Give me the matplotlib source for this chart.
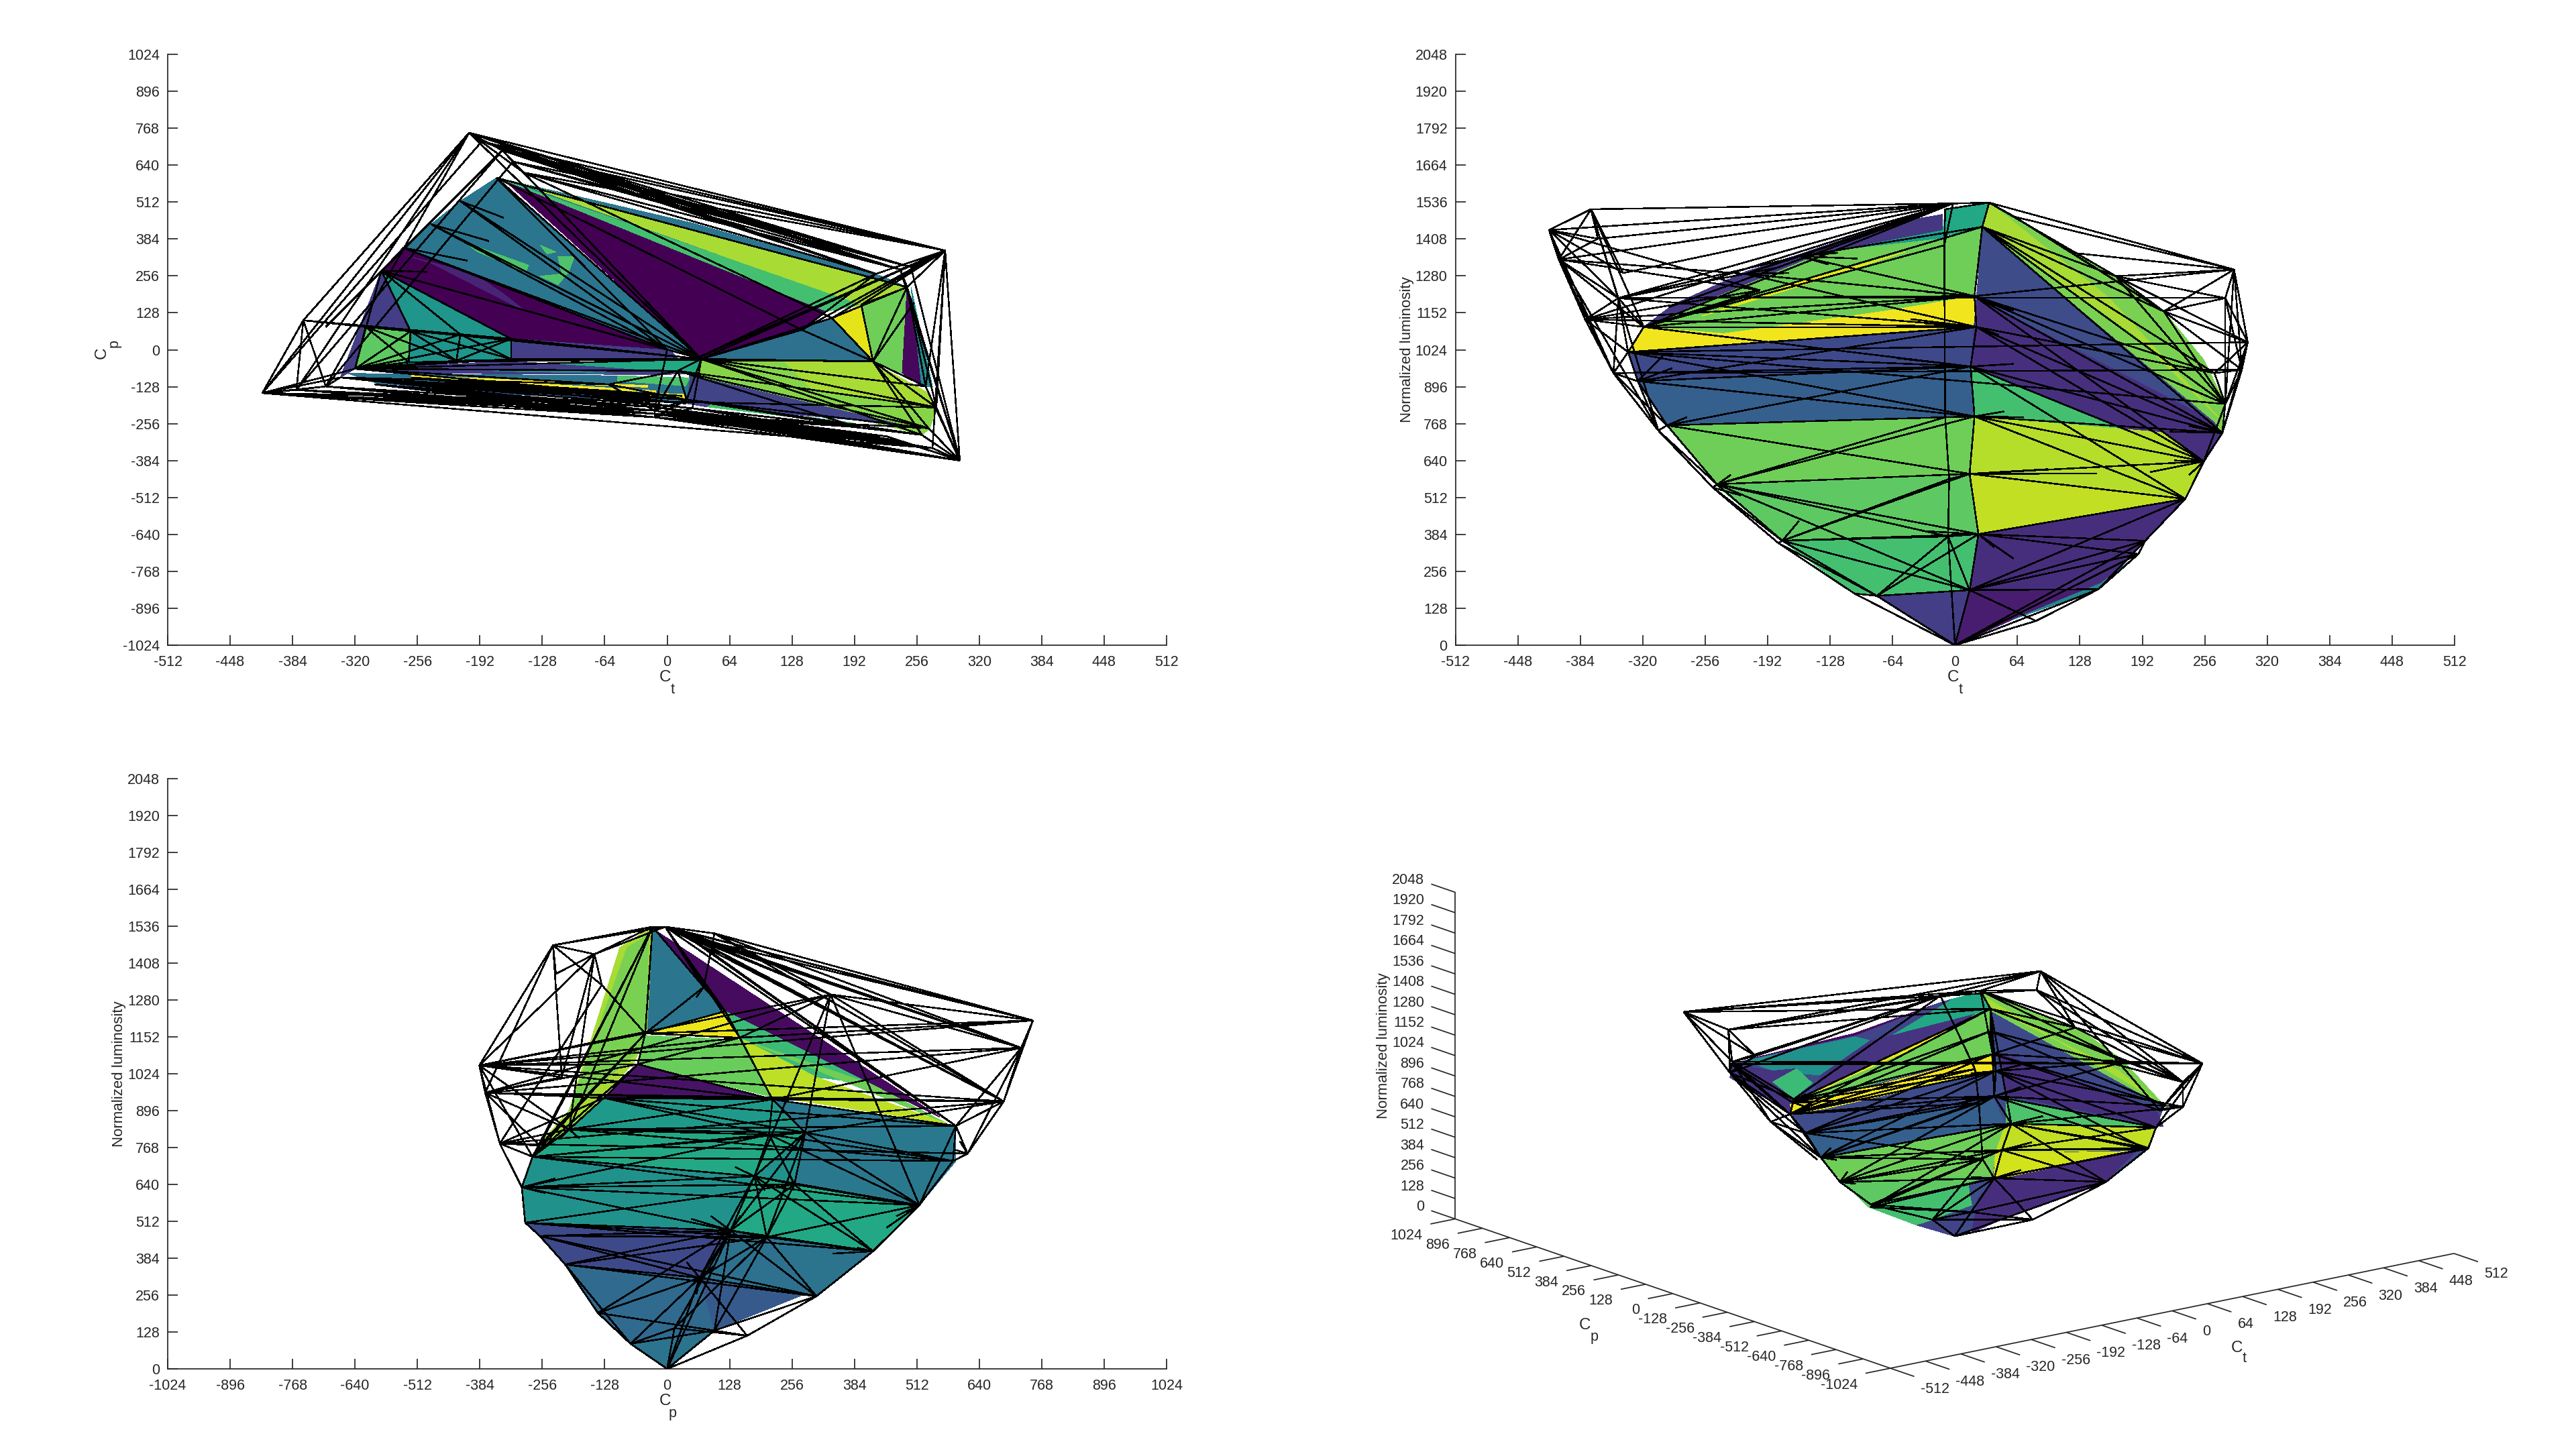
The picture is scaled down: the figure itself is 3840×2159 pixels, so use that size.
import numpy as np
import matplotlib
matplotlib.use("Agg")
import matplotlib.pyplot as plt
from matplotlib.collections import LineCollection, PolyCollection

plt.rcParams["font.family"] = ["Liberation Sans", "DejaVu Sans"]
plt.rcParams["axes.unicode_minus"] = False

W, H = 3840, 2159
INK = "#262626"
FS = 15.5

CT_TICKS = list(range(-512, 513, 64))
CP_TICKS = list(range(-1024, 1025, 128))
LUM_TICKS = list(range(0, 2049, 128))

# ---- panel 1: Ct / Cp
P1_FACES = [
    [(-175, 596), (-212, 515), (-242, 435), (-271, 354), (11, -12), (26, -5)],
    [(-168, 591), (164, 133), (138, 69), (35, -32)],
    [(-271, 354), (-293, 274), (-160, 38), (4, -2)],
    [(-160, 38), (-160, -32), (11, -32), (4, -2)],
    [(-293, 274), (-160, 38), (-160, -32), (-216, -38), (-320, -66), (-309, 79)],
    [(-309, 79), (-263, 64), (-265, -43), (-320, -66)],
    [(-293, 274), (-263, 64), (-309, 79), (-320, -66), (-335, -96), (-309, 133)],
    [(-168, 591), (26, 439), (220, 255), (246, 217), (198, 156)],
    [(-153, 579), (246, 217), (198, 156)],
    [(-165, 585), (198, 156), (164, 133)],
    [(169, 110), (198, 156), (211, -40)],
    [(198, 156), (246, 217), (241, -81), (211, -40)],
    [(246, 217), (241, -81), (261, -127), (253, 118)],
    [(250, 217), (272, -127), (261, -127), (253, 118)],
    [(138, 69), (169, 110), (211, -40), (35, -32)],
    [(35, -32), (211, -40), (276, -203), (269, -275), (261, -295), (23, -89)],
    [(120, -40), (211, -45), (268, -150), (276, -203), (150, -140)],
    [(23, -89), (85, -136), (260, -275), (194, -244), (41, -198), (19, -186)],
    [(41, -198), (194, -260), (190, -253), (45, -190)],
    [(-117, -47), (34, -31), (28, -86), (-47, -70)],
    [(-314, -66), (-161, -39), (23, -82), (-3, -86), (-272, -81)],
    [(-178, -74), (-134, -66), (-56, -82)],
    [(-327, -82), (-51, -90), (23, -97), (19, -186), (-297, -117)],
    [(-51, -90), (23, -97), (19, -125), (-51, -108)],
    [(-297, -113), (-12, -171), (-16, -179), (-222, -144)],
    [(-240, -108), (10, -150), (10, -166)],
    [(-262, -89), (-20, -124), (-20, -130), (-262, -94)],
    [(-231, -97), (-12, -142), (-12, -148), (-231, -102)],
    [(-178, -117), (-16, -158), (-16, -164), (-178, -122)],
    [(-126, -136), (-16, -160), (-16, -168), (-126, -142)],
    [(-7, -151), (19, -155), (19, -175)],
    [(-206, 370), (-142, 293), (-145, 270), (-194, 339)],
    [(-130, 362), (-114, 339), (-123, 332)],
    [(-112, 324), (-95, 324), (-101, 270), (-112, 225), (-130, 255), (-108, 263)],
    [(-265, 324), (-198, 263), (-168, 194), (-145, 133), (-242, 301)],
]
P1_FACE_C = [0.39, 0.0, 0.0, 0.18, 0.52, 0.75, 0.18, 0.39, 0.87, 0.7, 0.96, 0.78, 0.02,
             0.48, 0.37, 0.82, 0.87, 0.2, 0.7, 0.6, 0.18, 0.45, 0.38, 0.72, 0.28, 0.35,
             1.0, 1.0, 1.0, 1.0, 0.97, 0.72, 0.72, 0.72, 0.1]
P1_V = [(-203, 752), (285, 344), (300, -384), (-415, -150), (-373, 102), (-13, -234), (-169, 691),
        (-147, 614), (-175, 596), (-212, 515), (-242, 435), (-271, 354), (-293, 274), (35, -32),
        (-160, 38), (-309, 79), (-320, -66), (-335, -96), (-263, 64), (-212, 53), (-265, -43),
        (-216, -38), (-160, -32), (246, 217), (211, -40), (169, 110), (199, 156), (138, 69),
        (265, -127), (276, -200), (268, -272), (261, -295), (239, 278), (214, 263), (250, 286),
        (-350, 79), (-380, -139), (-350, -127), (11, -73), (20, -173), (-13, -211), (0, 0),
        (272, -341), (242, -318), (-287, -112), (-246, 270), (-60, -120), (26, -203), (253, 163),
        (-168, 458), (-183, 377), (-205, 309),
        (-13, -222), (-13, -198), (-190, 722), (-158, 652), (-300, -120), (225, -300), (-230, -105),
        (-178, -118), (-120, -135), (15, -160), (19, -186), (-262, -96), (30, -30), (195, -268)]
P1_FANS = {
    0: [1, 32, 34, 33, 3, 4, 13, 36, 7, 6, 54, 37],
    54: [1, 34, 32, 33, 3],
    6: [1, 32, 34, 33, 36, 35, 13, 7],
    55: [1, 32, 34, 37, 13],
    7: [1, 32, 33, 13, 25],
    8: [13, 41, 23, 27],
    9: [13, 41, 49],
    10: [13, 41, 50],
    11: [13, 41, 51],
    12: [13, 14, 16, 18, 19, 45, 41],
    4: [3, 36, 37, 14, 19, 13, 15],
    3: [5, 40, 52, 36, 37, 17, 16, 29, 30, 42],
    36: [5, 37, 40, 52, 53],
    37: [5, 17, 52, 53],
    56: [5, 52, 53, 40],
    5: [2, 42, 43, 40, 47, 39, 57],
    52: [2, 42, 43, 57, 65],
    40: [2, 43, 39, 38, 41, 42, 57, 65],
    53: [2, 43, 42, 57],
    2: [1, 34, 32, 23, 42, 43, 30, 31, 28, 29, 57],
    1: [13, 27, 25, 34, 32, 33, 42, 23, 28, 29, 64, 26],
    33: [64, 27],
    13: [24, 27, 25, 28, 29, 30, 31, 14, 22, 39, 38, 47, 16, 21, 20],
    24: [23, 25, 26, 28, 29, 30, 31, 48, 27, 22],
    23: [25, 26, 28, 29, 32],
    16: [18, 19, 14, 15, 20, 21, 22, 38, 39, 46],
    15: [18, 20, 21, 19],
    18: [20, 21, 19, 22],
    19: [21, 22],
    14: [21, 22],
    17: [39, 47, 46, 40, 61, 62],
    44: [39, 47, 40, 61, 62],
    46: [39, 40, 38],
    38: [29, 30, 39, 65],
    39: [30, 31, 65],
    47: [31, 42, 43, 65],
    58: [61, 62, 39],
    59: [61, 62, 39],
    60: [61, 62],
    63: [61, 62, 47],
}

# ---- panel 2: Ct / luminosity
P2_FACES = [
    [(-10, 1511), (35, 1534), (28, 1450), (-13, 1416)],
    [(-133, 1363), (-13, 1493), (-13, 1409)],
    [(-319, 1103), (-289, 1180), (-215, 1294), (-159, 1355), (-66, 1462), (-13, 1493), (-13, 1440),
     (-133, 1363), (-215, 1248)],
    [(-319, 1103), (-215, 1248), (-133, 1363), (-13, 1409), (28, 1450), (20, 1210), (22, 1103), (-237, 1080)],
    [(-335, 1016), (-319, 1103), (-237, 1080), (-73, 1157), (20, 1210), (22, 1103)],
    [(-259, 1141), (-162, 1256), (-51, 1363), (-170, 1233)],
    [(-335, 1016), (22, 1103), (16, 966), (-325, 915)],
    [(-325, 915), (16, 966), (20, 793), (-295, 762)],
    [(-295, 762), (20, 793), (15, 594), (-244, 553)],
    [(-244, 553), (15, 594), (24, 385), (-177, 362)],
    [(-177, 362), (24, 385), (15, 191), (-80, 171), (-103, 179)],
    [(28, 1450), (22, 1203), (266, 775), (233, 912)],
    [(22, 1203), (16, 966), (255, 637), (274, 736), (266, 775)],
    [(16, 966), (102, 843), (247, 652), (214, 737), (20, 793)],
    [(20, 793), (214, 737), (255, 637), (236, 507), (15, 594)],
    [(15, 594), (236, 507), (24, 385)],
    [(24, 385), (236, 507), (195, 362), (147, 194), (15, 191)],
    [(15, 191), (147, 194), (60, 90), (0, 0)],
    [(-80, 171), (15, 191), (0, 0)],
    [(35, 1534), (98, 1409), (162, 1279), (214, 1157), (255, 989), (277, 836), (274, 736), (266, 775),
     (28, 1450)],
    [(35, 1534), (158, 1203), (270, 790), (188, 1065), (28, 1450)],
    [(188, 316), (147, 194), (60, 90), (150, 215)],
]
P2_FACE_C = [0.6, 0.55, 0.16, 0.78, 0.98, 0.96, 0.22, 0.3, 0.78, 0.75, 0.7, 0.23, 0.14, 0.7, 0.89,
             0.91, 0.13, 0.08, 0.18, 0.8, 0.87, 0.45]
P2_V = [(0, 0), (-2, 1531), (35, 1534), (28, 1450), (-416, 1439), (-373, 1511), (-366, 1409),
        (-406, 1337), (-345, 1203), (-379, 1129), (-350, 943), (-304, 744), (-248, 546), (-181, 354),
        (-103, 179), (-319, 1103), (-335, 1016), (-325, 915), (-295, 762), (-244, 558), (-177, 362),
        (-80, 171), (-215, 1287), (-159, 1348), (-66, 1462), (-10, 1511), (20, 1210), (22, 1103),
        (16, 966), (20, 793), (15, 594), (24, 385), (15, 191), (-11, 1386), (-10, 790), (-6, 576),
        (-7, 377), (286, 1302), (277, 1203), (300, 1050), (294, 955), (277, 836), (274, 736),
        (255, 637), (236, 507), (195, 362), (147, 194), (83, 84), (214, 1157), (61, 1485),
        (165, 1279), (266, 943), (188, 316), (-293, 1172), (-340, 1290), (-200, 1230), (120, 1360)]
P2_FANS = {
    1: [5, 4, 6, 8, 53, 7, 15, 22, 23, 24, 2, 33, 9, 54],
    2: [3, 49, 37, 50, 25],
    4: [5, 6, 7, 9, 10, 8, 54, 55],
    5: [6, 7, 8, 11, 15, 54],
    7: [8, 9, 10, 11, 15, 6, 22, 55],
    8: [9, 15, 16, 22, 23, 26, 27, 10],
    9: [10, 16, 15, 27, 26, 55],
    10: [11, 16, 17, 18, 28, 40],
    11: [12, 17, 18, 19],
    12: [13, 19, 20],
    13: [14, 20, 21],
    14: [0, 21],
    15: [16, 26, 27, 28, 33, 3, 55],
    16: [17, 27, 28, 29, 41, 39],
    17: [18, 28, 29, 27],
    18: [19, 29, 28, 30, 34],
    19: [20, 29, 30, 31, 34, 36, 32],
    20: [21, 30, 31, 32, 36, 35],
    21: [0, 31, 32, 36],
    22: [26, 27, 23],
    23: [26, 3],
    37: [38, 39, 40, 41, 49, 50, 48, 26, 56],
    38: [39, 40, 41, 48, 50, 8],
    39: [40, 41, 42, 48, 50, 51],
    40: [41, 42, 48, 51],
    41: [42, 43, 48, 50, 51],
    3: [26, 42, 41, 51, 48, 50],
    26: [27, 42, 41, 43, 51],
    27: [28, 42, 43, 51],
    28: [29, 42, 43, 44],
    29: [30, 42, 43, 44, 34],
    30: [31, 43, 44, 35],
    31: [32, 44, 45, 52, 36],
    32: [0, 44, 45, 46, 52, 36, 47],
    0: [47, 45, 46, 52, 36],
    43: [42, 44],
    44: [45],
    45: [52, 46],
    46: [47, 52],
    48: [50, 49, 56],
    33: [34, 25],
    34: [35],
    35: [36],
    49: [56],
}
P2_SPIKES = [
    ((20, 1210), (-30, 1225)), ((20, 1210), (-40, 1195)), ((20, 1210), (60, 1160)),
    ((22, 1103), (-30, 1115)), ((22, 1103), (-45, 1130)), ((22, 1103), (45, 1075)), ((22, 1103), (55, 1055)),
    ((16, 966), (-30, 985)), ((16, 966), (-60, 995)), ((16, 966), (60, 975)),
    ((20, 793), (-15, 805)), ((20, 793), (70, 790)), ((20, 793), (50, 810)),
    ((15, 594), (95, 610)), ((15, 594), (145, 595)), ((15, 594), (-5, 570)),
    ((24, 385), (-30, 395)), ((24, 385), (40, 340)), ((24, 385), (60, 300)),
    ((255, 637), (200, 600)), ((255, 637), (225, 640)), ((255, 637), (240, 590)),
    ((274, 736), (240, 760)), ((274, 736), (220, 740)),
    ((-248, 546), (-230, 590)), ((-248, 546), (-220, 520)),
    ((-177, 362), (-160, 430)), ((-177, 362), (-190, 400)),
    ((-325, 915), (-300, 1000)), ((-325, 915), (-290, 960)), ((-295, 762), (-275, 790)),
    ((-159, 1348), (-100, 1340)), ((-159, 1348), (-120, 1360)), ((-159, 1348), (-130, 1320)),
    ((-215, 1287), (-170, 1290)), ((-215, 1287), (-180, 1310)),
]

# ---- panel 3: Cp / luminosity
P3_FACES = [
    [(-30, 1534), (-42, 1169), (119, 1241)],
    [(-19, 1516), (559, 874), (417, 989), (119, 1241), (75, 1325)],
    [(-45, 1157), (157, 1141), (216, 943), (-60, 1057)],
    [(-37, 1164), (119, 1241), (149, 1149)],
    [(119, 1241), (417, 989), (306, 1012), (149, 1149)],
    [(157, 1141), (417, 989), (574, 851)],
    [(157, 1141), (306, 1012), (574, 851), (253, 935), (216, 943)],
    [(-30, 1534), (-42, 1169), (-67, 1065), (-134, 943), (-268, 767), (-201, 897), (-97, 1462)],
    [(-82, 1462), (-37, 1508), (-45, 1157), (-52, 1111), (-201, 897)],
    [(-134, 943), (-201, 831), (-276, 736), (-268, 767)],
    [(-60, 1057), (216, 935), (-130, 940)],
    [(-130, 940), (216, 935), (283, 820), (-276, 736), (-201, 831)],
    [(216, 935), (592, 843), (592, 721), (283, 820)],
    [(-201, 831), (283, 820), (179, 668), (-276, 736)],
    [(283, 820), (261, 640), (179, 668)],
    [(-276, 736), (179, 668), (-298, 630)],
    [(-298, 630), (179, 668), (130, 480), (-288, 507)],
    [(283, 820), (592, 721), (517, 568), (261, 640)],
    [(179, 668), (261, 640), (517, 568), (422, 408), (130, 480)],
    [(130, 480), (422, 408), (306, 252), (204, 454)],
    [(-288, 507), (130, 480), (67, 316), (-209, 362)],
    [(-209, 362), (67, 316), (97, 133), (-75, 87), (-142, 194)],
    [(67, 316), (276, 255), (97, 133)],
    [(130, 480), (204, 454), (306, 252), (67, 316)],
    [(-75, 87), (97, 133), (0, 0)],
]
P3_FACE_C = [0.39, 0.03, 0.77, 0.97, 0.68, 0.78, 0.9, 0.87, 0.8, 0.85, 0.05, 0.54, 0.4, 0.6, 0.5,
             0.5, 0.5, 0.4, 0.6, 0.38, 0.22, 0.34, 0.28, 0.37, 0.38]
P3_V = [(0, 0), (-30, 1534), (-4, 1534), (-234, 1470), (97, 1511), (750, 1209), (726, 1114),
        (690, 928), (335, 1299), (-385, 1053), (-373, 958), (-343, 782), (-149, 1439), (-134, 1332),
        (-216, 1012), (-228, 1371), (616, 747), (592, 843), (586, 721), (517, 568), (422, 408),
        (306, 252), (164, 115), (-75, 87), (-142, 194), (-209, 362), (-261, 461), (-291, 507),
        (-298, 630), (-276, 736), (-201, 831), (-130, 940), (-60, 1057), (-45, 1164), (75, 1325),
        (119, 1241), (149, 1149), (216, 935), (283, 820), (209, 813), (179, 668), (261, 640),
        (130, 480), (204, 457), (67, 316), (276, 258), (15, 141), (97, 133), (-261, 775),
        (20, 1525), (45, 1500)]
P3_FANS = {
    1: [29, 48, 30],
    3: [1, 12, 13, 9, 10, 14, 15, 2],
    12: [13, 14, 15, 1, 2, 9, 30],
    2: [4, 5, 6, 8, 7, 34, 35, 36, 1, 17, 49],
    49: [5, 6, 8, 7, 17],
    50: [5, 6, 7, 17],
    4: [5, 6, 8, 7, 34],
    8: [5, 6, 7, 38, 40, 19, 9, 10, 36],
    5: [6, 7, 9, 33, 36],
    6: [7, 9, 10, 37, 17, 16],
    7: [16, 17, 9, 10, 11, 37, 38],
    9: [10, 11, 14, 32, 30, 33, 36, 37, 29],
    10: [11, 14, 37, 31, 30, 32, 48],
    11: [48, 30, 28, 29, 31, 13, 16],
    17: [16, 18, 37, 30, 31, 19],
    18: [16, 19, 38, 39, 29, 30],
    19: [20, 41, 38, 39, 40, 43, 28, 29],
    20: [21, 41, 40, 43, 42, 27],
    21: [22, 43, 42, 44, 47, 45, 25, 26],
    22: [0, 47, 44, 46],
    0: [23, 46, 47, 44, 42],
    23: [24, 46, 47, 44, 25],
    24: [25, 44, 47, 42],
    25: [26, 44, 42, 43],
    26: [27, 42, 44, 43],
    27: [28, 42, 43, 41],
    28: [29, 40, 41, 42, 39],
    29: [30, 39, 38, 40, 48],
    30: [31, 38, 39, 37],
    31: [32, 37, 39, 38],
    32: [33, 36, 37, 29],
    33: [1, 34, 35, 36, 13, 29, 48],
    34: [35, 1],
    35: [36],
    36: [37],
    37: [38, 39],
    38: [41, 40, 39, 42, 43],
    39: [40, 41],
    40: [41, 42, 43, 44],
    41: [43, 42],
    42: [43, 44, 46, 47],
    43: [44, 47, 46],
}
P3_SPIKES = [
    ((67, 316), (60, 260)), ((67, 316), (40, 370)), ((67, 316), (95, 355)),
    ((130, 480), (90, 530)), ((130, 480), (100, 400)), ((130, 480), (50, 520)), ((130, 480), (150, 530)),
    ((179, 668), (140, 700)), ((179, 668), (200, 620)),
    ((75, 1325), (60, 1290)), ((75, 1325), (95, 1290)),
    ((-298, 630), (-250, 610)), ((-298, 630), (-230, 660)),
    ((-201, 831), (-180, 800)), ((-201, 831), (-220, 800)),
    ((517, 568), (470, 530)), ((517, 568), (450, 490)),
    ((616, 747), (590, 760)), ((616, 747), (600, 790)),
    ((422, 408), (390, 420)), ((422, 408), (340, 400)),
]

# ---- panel 4: oblique view, mesh read as (Ct, luminosity) on the Cp = 0 plane
P4_FACES = [
    [(0, 0), (100, 57), (275, 147), (352, 305), (380, 545), (379, 560), (304, 893), (236, 1109),
     (47, 1497), (-7, 1490), (-44, 1474), (-181, 1388), (-361, 1375), (-405, 1363), (-408, 1281),
     (-296, 978), (-274, 837), (-243, 661), (-206, 495), (-156, 292), (-69, 118)],
    [(47, 1497), (65, 1370), (-119, 1337), (-7, 1490)],
    [(-7, 1490), (-119, 1337), (-153, 1333), (-181, 1388), (-44, 1474)],
    [(-44, 1474), (-181, 1388), (-361, 1375), (-181, 1400)],
    [(-377, 1365), (-181, 1377), (-153, 1333), (-243, 1180), (-330, 1269)],
    [(-405, 1363), (-330, 1269), (-287, 1252), (-330, 1199), (-293, 1074), (-296, 978), (-408, 1281)],
    [(-287, 1252), (-259, 1142), (-293, 1074), (-330, 1199)],
    [(-243, 1180), (-153, 1333), (-119, 1337), (40, 1366), (-13, 1298), (-255, 1090)],
    [(65, 1370), (71, 1099), (-293, 1033), (-255, 1090), (-13, 1298), (40, 1366)],
    [(-16, 1297), (-94, 1236), (-212, 1126), (-268, 1057), (-212, 1116), (-75, 1230)],
    [(65, 1089), (71, 987), (-237, 965), (-293, 977), (-299, 1037), (-181, 1038)],
    [(-293, 934), (71, 959), (71, 805), (-274, 837)],
    [(-274, 837), (71, 805), (90, 651), (-181, 659), (-243, 661)],
    [(-243, 661), (90, 637), (74, 438), (68, 330), (-156, 292), (-206, 495)],
    [(-206, 495), (68, 330), (24, 319), (-156, 292)],
    [(-156, 292), (24, 319), (31, 174), (-69, 118)],
    [(-69, 118), (31, 125), (0, 0)],
    [(65, 1370), (366, 583), (366, 541), (80, 1093)],
    [(80, 1093), (366, 541), (379, 420), (93, 817)],
    [(47, 1497), (236, 1109), (304, 893), (379, 560), (366, 583), (65, 1370)],
    [(55, 1460), (360, 615), (298, 828), (70, 1380)],
    [(93, 803), (198, 645), (366, 422), (93, 642)],
    [(93, 642), (366, 422), (347, 302), (74, 466)],
    [(74, 466), (329, 301), (71, 300)],
    [(71, 300), (329, 301), (273, 144), (117, 72), (31, 0), (43, 208)],
]
P4_FACE_C = [0.23, 0.6, 0.2, 0.03, 0.5, 0.15, 0.68, 0.15, 0.78, 0.97, 0.98, 0.23, 0.3, 0.78, 0.75,
             0.7, 0.2, 0.22, 0.14, 0.8, 0.87, 0.72, 0.91, 0.93, 0.13]
P4_V = [(0, 0), (-492, 1752), (156, 1552), (450, 767), (47, 1506), (415, 520), (366, 425), (352, 305),
        (275, 147), (142, 4), (-152, 305), (-250, 657), (-299, 975), (-404, 1378), (-411, 1584),
        (-26, 1526), (65, 1380), (149, 1439), (415, 674), (373, 526), (219, 1154), (69, 1094),
        (75, 983), (72, 827), (103, 633), (86, 480), (72, 313), (30, 130), (-271, 837), (-243, 664),
        (-208, 486), (-40, 132), (-362, 1385), (-292, 1064), (-408, 1311), (-334, 952), (37, 1022),
        (44, 805), (51, 446), (310, 877),
        (-296, 1050), (65, 1240), (379, 560), (347, 302), (-153, 289), (-405, 1363)]
P4_FANS = {
    1: [2, 14, 13, 4, 15, 32, 17, 34, 16],
    14: [2, 32, 34, 16, 4],
    2: [3, 17, 4, 15, 20, 18, 19],
    3: [4, 17, 18, 19, 5, 20, 39, 6],
    4: [16, 17, 20, 39, 15, 21],
    17: [20, 18],
    15: [14, 13, 32, 36, 33, 34],
    13: [14, 34, 32, 12, 33, 35, 3],
    45: [3, 40, 12],
    34: [35, 33, 32, 12, 28, 29],
    35: [28, 29, 12, 11],
    12: [21, 22, 16, 23, 29, 33, 28, 36, 37, 41],
    40: [16, 41, 21, 22, 23],
    28: [23, 22, 37, 29, 24, 38, 21],
    29: [30, 23, 24, 25, 38, 37, 22],
    30: [10, 24, 25, 26, 38, 23],
    44: [25, 26, 27, 24],
    10: [31, 25, 26, 27],
    31: [0, 26, 27, 9],
    16: [21, 22, 23, 24, 39, 20, 18, 41],
    41: [42, 18, 21],
    21: [22, 19, 20, 39, 42],
    22: [23, 5, 6, 39, 43],
    23: [24, 5, 6, 7, 39],
    24: [25, 5, 6, 7, 8, 43],
    25: [26, 6, 7, 8, 43],
    26: [27, 7, 8, 9, 43],
    27: [0, 8, 9],
    0: [9, 26, 8],
    9: [8],
    8: [7],
    7: [6],
    6: [5],
    5: [18, 19],
    18: [19, 39, 20],
    36: [37, 33],
    37: [38, 29],
    38: [26, 31],
}
P4_SPIKES = [
    ((72, 827), (20, 840)), ((72, 827), (120, 850)), ((72, 827), (45, 790)),
    ((103, 633), (50, 660)), ((103, 633), (160, 640)), ((103, 633), (125, 600)),
    ((86, 480), (35, 500)), ((86, 480), (140, 490)), ((86, 480), (40, 450)),
    ((72, 313), (30, 350)), ((72, 313), (120, 330)), ((72, 313), (105, 290)),
    ((75, 983), (30, 1000)), ((75, 983), (120, 990)),
    ((-208, 486), (-195, 540)), ((-208, 486), (-180, 455)),
    ((-243, 664), (-225, 710)), ((-243, 664), (-215, 630)),
    ((-296, 1050), (-270, 1000)), ((-296, 1050), (-260, 1020)), ((-296, 1050), (-270, 1080)),
]

LINE_W = 1.1


def edges_from(verts, fans, spikes=()):
    segs = []
    for hub, targets in fans.items():
        for t in targets:
            segs.append([verts[hub], verts[t]])
    segs.extend(spikes)
    return segs


def px_axes(left, right, top, bottom):
    return fig.add_axes([left / W, 1 - bottom / H, (right - left) / W, (bottom - top) / H])


def axis_text(ax, x, y, s, **kw):
    ax.annotate(s, xy=(0.5, 0), xycoords="axes fraction", xytext=(x, y), textcoords="offset pixels",
                color=INK, ha="center", va="center", **kw)


def plot_panel(ax, faces, colors, verts, fans, spikes, xticks, yticks, xsub, ylabel):
    ax.add_collection(PolyCollection(faces, array=np.array(colors), cmap="viridis", clim=(0, 1),
                                     edgecolors="none", antialiaseds=False, zorder=2))
    ax.add_collection(LineCollection(edges_from(verts, fans, spikes), colors="k", linewidths=LINE_W,
                                     antialiaseds=False, zorder=3))
    ax.set_xlim(xticks[0], xticks[-1])
    ax.set_ylim(yticks[0], yticks[-1])
    ax.set_xticks(xticks)
    ax.set_yticks(yticks)
    ax.spines["top"].set_visible(False)
    ax.spines["right"].set_visible(False)
    for s in ("left", "bottom"):
        ax.spines[s].set_linewidth(1.25)
        ax.spines[s].set_color(INK)
    ax.tick_params(axis="both", direction="in", length=10.8, width=1.25, color=INK,
                   labelcolor=INK, labelsize=FS)
    ax.tick_params(axis="x", pad=11)
    ax.tick_params(axis="y", pad=8.5)
    axis_text(ax, -3, -48, "C", fontsize=17.5)
    axis_text(ax, 8, -66, xsub, fontsize=FS)
    if ylabel:
        ax.text(-0.0485, 0.5, ylabel, transform=ax.transAxes, rotation=90, color=INK, ha="center",
                va="center", fontsize=FS + 0.5)
    else:
        ax.annotate("C", xy=(0, 0.5), xycoords="axes fraction", xytext=(-98, -5),
                    textcoords="offset pixels", color=INK, rotation=90, ha="center", va="center",
                    fontsize=17.5)
        ax.annotate("p", xy=(0, 0.5), xycoords="axes fraction", xytext=(-80, 9),
                    textcoords="offset pixels", color=INK, rotation=90, ha="center", va="center",
                    fontsize=FS)


# oblique view: screen pixels per unit of each data axis, origin at Ct = Cp = L = 0
E_CT = np.array([0.8206, 0.1671])
E_CP = np.array([-0.3167, 0.1087])
E_L = np.array([0.0, 0.2378])
ORIGIN_PX = (2913.7, 1843.2)


def view(ct, cp, lum):
    return ct * E_CT + cp * E_CP + lum * E_L


def plot_oblique(ax):
    faces = [[view(c, 0, l) for c, l in f] for f in P4_FACES]
    verts = [view(c, 0, l) for c, l in P4_V]
    spikes = [[view(a[0], 0, a[1]), view(b[0], 0, b[1])] for a, b in P4_SPIKES]
    ax.add_collection(PolyCollection(faces, array=np.array(P4_FACE_C), cmap="viridis", clim=(0, 1),
                                     edgecolors="none", antialiaseds=False, zorder=2))
    ax.add_collection(LineCollection(edges_from(verts, P4_FANS, spikes), colors="k", linewidths=LINE_W,
                                     antialiaseds=False, zorder=3))

    def frame(a, b):
        ax.plot([a[0], b[0]], [a[1], b[1]], color=INK, lw=1.25, zorder=1, solid_capstyle="butt")

    def label(p, s, dx, dy, ha="center", va="center", **kw):
        ax.annotate(s, xy=p, xytext=(dx, dy), textcoords="offset pixels", color=INK, ha=ha, va=va, **kw)

    frame(view(-512, 1024, 0), view(-512, 1024, 2048))
    frame(view(-512, 1024, 0), view(-512, -1024, 0))
    frame(view(-512, -1024, 0), view(512, -1024, 0))
    for v in LUM_TICKS:
        p = view(-512, 1024, v)
        frame(p, view(-512, 1024 + 113, v))
        label(p, str(v), -46, 18, ha="right", fontsize=FS)
    for v in CP_TICKS:
        p = view(-512, v, 0)
        frame(p, view(-512 - 45, v, 0))
        label(p, str(v), -49, -25, ha="right", fontsize=FS)
    for v in CT_TICKS:
        p = view(v, -1024, 0)
        frame(p, view(v, -1024 - 113, 0))
        label(p, str(v), 45, -31, ha="left", fontsize=FS)
    mid_cp = view(-512, 0, 0)
    label(mid_cp, "C", -131, -47, fontsize=17.5)
    label(mid_cp, "p", -117, -65, fontsize=FS)
    mid_ct = view(0, -1024, 0)
    label(mid_ct, "C", 96, -55, fontsize=17.5)
    label(mid_ct, "t", 108, -71, fontsize=FS)
    label(view(-512, 1024, 1024), "Normalized luminosity", -107, 15, rotation=90, fontsize=FS + 0.5)


fig = plt.figure(figsize=(W / 100, H / 100), dpi=100, facecolor="white")

ax1 = px_axes(250, 1739, 81, 962)
plot_panel(ax1, P1_FACES, P1_FACE_C, P1_V, P1_FANS, [], CT_TICKS, CP_TICKS, "t", None)

ax2 = px_axes(2169.5, 3659, 81, 962)
plot_panel(ax2, P2_FACES, P2_FACE_C, P2_V, P2_FANS, P2_SPIKES, CT_TICKS, LUM_TICKS, "t", "Normalized luminosity")

ax3 = px_axes(250, 1739, 1161, 2041)
plot_panel(ax3, P3_FACES, P3_FACE_C, P3_V, P3_FANS, P3_SPIKES, CP_TICKS, LUM_TICKS, "p", "Normalized luminosity")

ax4 = px_axes(2040, 3800, 1290, 2150)
ax4.set_xlim(2040 - ORIGIN_PX[0], 3800 - ORIGIN_PX[0])
ax4.set_ylim(ORIGIN_PX[1] - 2150, ORIGIN_PX[1] - 1290)
ax4.axis("off")
plot_oblique(ax4)

fig.savefig("out.png", dpi=100)
print("Saved out.png")
